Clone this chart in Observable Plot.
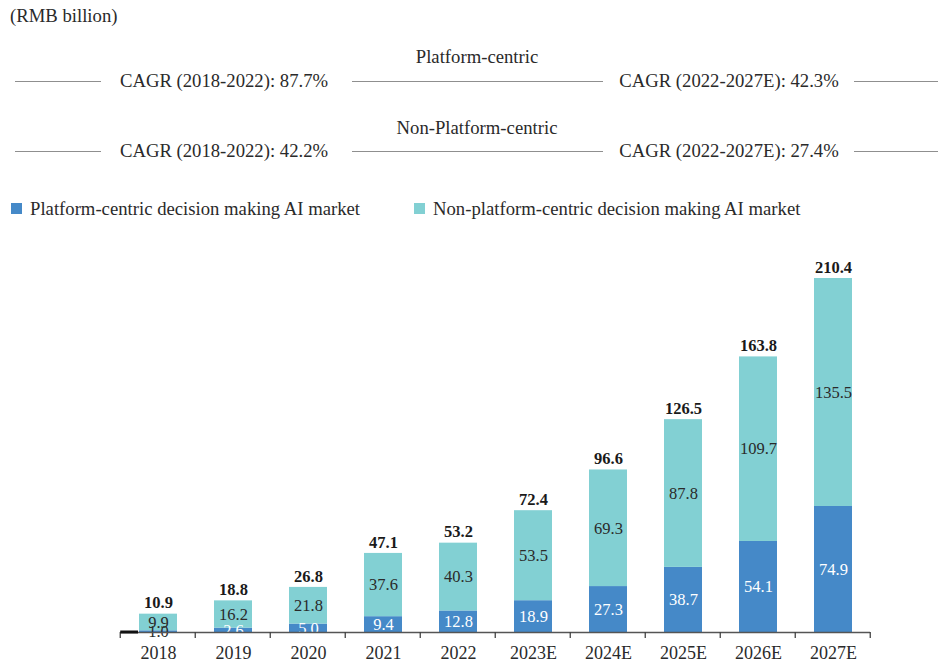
<!DOCTYPE html>
<html>
<head>
<meta charset="utf-8">
<script src="https://cdn.jsdelivr.net/npm/d3@7"></script>
<script src="https://cdn.jsdelivr.net/npm/@observablehq/plot@0.6"></script>
<style>
  body { margin: 0; background: #fff; font-family: "Liberation Serif", "Times New Roman", serif; color: #2a2a2a; }
  #wrap { position: relative; width: 938px; height: 666px; overflow: hidden; }
  #header { position: absolute; left: 0; top: 0; width: 938px; height: 230px; }
  .t { position: absolute; font-size: 18.7px; white-space: nowrap; line-height: 1; }
  .c { transform: translate(-50%, -50%); }
  .l { transform: translate(0, -50%); }
  .ln { position: absolute; height: 0; border-top: 1.4px solid #8f8f8f; }
  .sw { position: absolute; width: 11px; height: 11px; }
  #chart { position: absolute; left: 0; top: 230px; }
</style>
</head>
<body>
<div id="wrap">
  <div id="header"></div>
  <div id="chart"></div>
</div>
<script>
// ---- data ----
const years = ["2018", "2019", "2020", "2021", "2022", "2023E", "2024E", "2025E", "2026E", "2027E"];
const platform = [1.0, 2.6, 5.0, 9.4, 12.8, 18.9, 27.3, 38.7, 54.1, 74.9];
const nonPlatform = [9.9, 16.2, 21.8, 37.6, 40.3, 53.5, 69.3, 87.8, 109.7, 135.5];
const totals = [10.9, 18.8, 26.8, 47.1, 53.2, 72.4, 96.6, 126.5, 163.8, 210.4];
const seriesNames = ["Platform-centric decision making AI market", "Non-platform-centric decision making AI market"];
const seriesColors = ["#4589c8", "#82d0d3"];
const unitLabel = "(RMB billion)";
const cagrGroups = ["Platform-centric", "Non-Platform-centric"];
const cagrEarly = ["CAGR (2018-2022): 87.7%", "CAGR (2018-2022): 42.2%"];
const cagrLate = ["CAGR (2022-2027E): 42.3%", "CAGR (2022-2027E): 27.4%"];

// ---- header ----
const header = document.getElementById("header");
function add(cls, css, text) {
  const el = document.createElement("div");
  el.className = cls;
  Object.assign(el.style, css);
  if (text != null) el.textContent = text;
  header.appendChild(el);
}
add("t l", {left: "10px", top: "16px"}, unitLabel);
cagrGroups.forEach((g, i) => {
  const yT = 57 + i * 71, yL = 81 + i * 70;
  add("t c", {left: "477px", top: yT + "px"}, g);
  add("t c", {left: "224px", top: yL + "px"}, cagrEarly[i]);
  add("t c", {left: "729px", top: yL + "px"}, cagrLate[i]);
  add("ln", {left: "15px", width: "86px", top: yL + "px"});
  add("ln", {left: "352px", width: "251px", top: yL + "px"});
  add("ln", {left: "854px", width: "84px", top: yL + "px"});
});
add("sw", {left: "11px", top: "203px", background: seriesColors[0]});
add("t l", {left: "30px", top: "209px"}, seriesNames[0]);
add("sw", {left: "414px", top: "203px", background: seriesColors[1]});
add("t l", {left: "433px", top: "209px"}, seriesNames[1]);

// ---- chart ----
const rows = [];
years.forEach((y, i) => {
  rows.push({year: y, series: seriesNames[0], value: platform[i], idx: 0});
  rows.push({year: y, series: seriesNames[1], value: nonPlatform[i], idx: 1});
});
const totalRows = years.map((y, i) => ({year: y, total: totals[i]}));

function boundaryTicks(index, scales, values, dims) {
  const x = scales.x, y = scales.y;
  const step = x(years[1]) - x(years[0]);
  const bw = step * 0.5;
  const y0 = y(0);
  const g = d3.create("svg:g");
  const xs = years.map(d => x(d) - step * 0.25);
  xs.push(x(years[years.length - 1]) + bw + step * 0.25);
  for (const xx of xs) {
    g.append("line").attr("x1", xx).attr("x2", xx).attr("y1", y0).attr("y2", y0 + 6)
      .attr("stroke", "#444").attr("stroke-width", 1.3);
  }
  g.append("line").attr("x1", xs[0]).attr("x2", x(years[0]) - 1).attr("y1", y0).attr("y2", y0)
    .attr("stroke", "#111").attr("stroke-width", 3);
  return g.node();
}

const serif = "Liberation Serif, Times New Roman, serif";
const chart = Plot.plot({
  width: 938,
  height: 436,
  marginLeft: 120,
  marginRight: 68,
  marginTop: 48,
  marginBottom: 34,
  style: {fontFamily: serif, fontSize: "18px", color: "#2a2a2a", background: "#fff", overflow: "visible"},
  x: {domain: years, paddingInner: 0.5, paddingOuter: 0.25, label: null, tickSize: 0, tickPadding: 14},
  y: {domain: [0, 210.4], axis: null},
  color: {domain: seriesNames, range: seriesColors},
  marks: [
    Plot.barY(rows, {x: "year", y: "value", fill: "series", order: seriesNames}),
    Plot.text(rows, Plot.stackY({
      x: "year", y: "value", z: "series", order: seriesNames,
      text: d => d.value.toFixed(1),
      fill: d => (d.idx === 0 && d.value >= 2) ? "white" : "#2a2a2a",
      fontSize: 16.5,
      fontFamily: serif
    })),
    Plot.text(totalRows, {x: "year", y: "total", text: d => d.total.toFixed(1), dy: -11, fontWeight: "bold", fontSize: 16.5, fill: "#1a1a1a", fontFamily: serif}),
    Plot.ruleY([0], {stroke: "#555", strokeWidth: 1.3}),
    boundaryTicks
  ]
});
document.getElementById("chart").appendChild(chart);
</script>
</body>
</html>
